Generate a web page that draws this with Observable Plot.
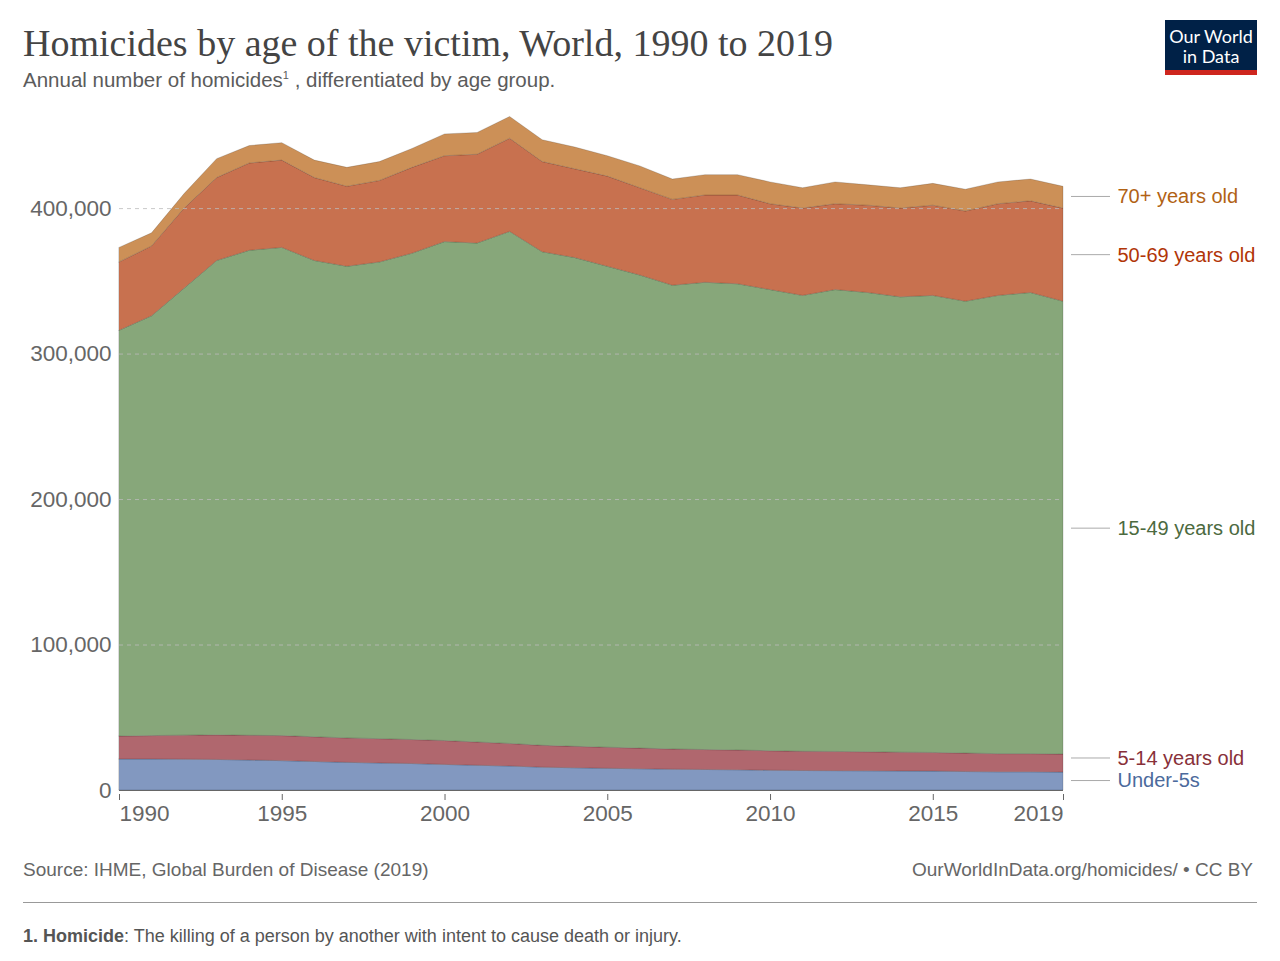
<!DOCTYPE html>
<html><head><meta charset="utf-8">
<script src="https://cdn.jsdelivr.net/npm/d3@7"></script>
<script src="https://cdn.jsdelivr.net/npm/@observablehq/plot@0.6"></script>
<style>
body{margin:0;background:#fff;font-family:"Liberation Sans",Arial,sans-serif;}
#wrap{position:relative;width:1280px;height:961px;}
#title{position:absolute;left:23px;top:21px;font-family:"Liberation Serif","DejaVu Serif",serif;font-size:38px;color:#444;}
#sub{position:absolute;left:23px;top:68px;font-size:20.5px;color:#5b5b5b;}
#logo{position:absolute;left:1165px;top:20px;width:92px;height:55px;background:#002147;color:#fff;text-align:center;font-family:Lato,sans-serif;font-size:18px;line-height:20px;box-sizing:border-box;padding-top:6px;border-bottom:5px solid #ce261e;}
#chart{position:absolute;left:0;top:100px;}
#src{position:absolute;left:23px;top:859px;font-size:19px;color:#666;}
#url{position:absolute;right:27px;top:859px;font-size:19px;color:#666;}
#hr{position:absolute;left:23px;width:1234px;top:902px;border-top:1px solid #999;}
#note{position:absolute;left:23px;top:926px;font-size:18px;color:#555;}
</style></head><body>
<div id="wrap">
<div id="title">Homicides by age of the victim, World, 1990 to 2019</div>
<div id="sub">Annual number of homicides<sup style="font-size:11px">1</sup> , differentiated by age group.</div>
<div id="logo">Our World<br>in Data</div>
<div id="chart"></div>
<div id="src">Source: IHME, Global Burden of Disease (2019)</div>
<div id="url">OurWorldInData.org/homicides/ • CC BY</div>
<div id="hr"></div>
<div id="note"><b>1. Homicide</b>: The killing of a person by another with intent to cause death or injury.</div>
</div>
<script>
const years = d3.range(1990, 2020);
const groups = ["Under-5s", "5-14 years old", "15-49 years old", "50-69 years old", "70+ years old"];
const colors = ["#8298c0", "#b0676e", "#87a77a", "#c8714f", "#cc9057"];
const labelColors = ["#4c6a9c", "#883039", "#4c6a3f", "#b13507", "#b16214"];
// thousands
const under5 = [21.3,21.3,21.2,21.0,20.6,20.2,19.6,19.0,18.6,18.2,17.6,17.0,16.5,15.7,15.3,14.9,14.6,14.3,14.1,13.9,13.6,13.4,13.3,13.2,13.1,13.0,12.7,12.5,12.5,12.3];
const age5to14 = [15.8,16.1,16.5,16.9,17.0,17.2,17.0,16.8,16.7,16.5,16.4,16.0,15.5,15.0,14.7,14.5,14.2,13.9,13.7,13.6,13.4,13.2,13.2,13.1,12.9,12.8,12.7,12.5,12.5,12.4];
const age15to49 = [278.9,288.6,307.3,326.1,333.4,335.6,327.4,324.2,327.7,334.3,343,343,352,339.3,336,330.6,325.2,318.8,321.2,320.5,317,313.4,317.5,315.7,313,314.2,310.6,315,317,311.3];
const age50to69 = [47,48,55,57,60,60,57,55,56,59,59,61,64,62,61,62,60,59,60,61,59,60,59,60,61,62,62,63,63,64];
const age70plus = [10,9,10,13,12,12,12,13,13,13,15,15,15,15,15,14,15,14,14,14,15,14,15,14,14,15,15,15,15,15];
const series = [under5, age5to14, age15to49, age50to69, age70plus];
const yTicks = [0, 100000, 200000, 300000, 400000];
const xTicks = [1990, 1995, 2000, 2005, 2010, 2015, 2019];
// label anchor values (data units) for the right-hand labels
const labelY = [6500, 22000, 180000, 368000, 408000];

const rows = [];
series.forEach((s, g) => s.forEach((v, i) => rows.push({year: years[i], group: groups[g], value: v * 1000})));

const chart = Plot.plot({
  width: 1280, height: 735,
  marginLeft: 119, marginRight: 217, marginTop: 15, marginBottom: 45,
  style: {fontFamily: "'Liberation Sans', Arial, sans-serif", fontSize: "22px", color: "#666", overflow: "visible"},
  x: {type: "linear", domain: [1990, 2019], label: null},
  y: {domain: [0, 464000], label: null},
  color: {domain: groups, range: colors},
  marks: [
    Plot.areaY(rows, {x: "year", y: "value", fill: "group", order: groups, stroke: "rgba(0,0,0,0.2)", strokeWidth: 0.8}),
    Plot.gridY(yTicks, {stroke: "#bbb", strokeDasharray: "4,4", strokeOpacity: 0.8}),
    Plot.axisY({ticks: yTicks, tickFormat: d => d3.format(",")(d), tickSize: 0, tickPadding: 8, fontSize: 22.5, label: null}),
    Plot.axisX({ticks: xTicks, tickFormat: d => String(d), fontSize: 22.5, label: null, tickSize: 6, tickPadding: 5, stroke: "#666", dy: 4}),
    Plot.ruleY([0], {stroke: "#666"}),
    Plot.text(groups, {x: () => 2019, y: (d, i) => labelY[i], text: d => d, dx: 54, textAnchor: "start", fill: (d, i) => labelColors[i], fontSize: 20})
  ]
});
// leader lines between the plot edge and the labels
const xs = chart.scale("x"), ys = chart.scale("y");
const svg = d3.select(chart);
labelY.forEach(v => {
  svg.append("line")
    .attr("x1", xs.apply(2019) + 8).attr("x2", xs.apply(2019) + 47)
    .attr("y1", ys.apply(v)).attr("y2", ys.apply(v))
    .attr("stroke", "#aaa").attr("stroke-width", 1);
});
// keep first and last year labels inside the plot edges
const xLabels = svg.selectAll("[aria-label='x-axis tick label'] text").nodes();
if (xLabels.length) {
  d3.select(xLabels[0]).attr("text-anchor", "start");
  d3.select(xLabels[xLabels.length - 1]).attr("text-anchor", "end");
}
document.getElementById("chart").appendChild(chart);
</script>
</body></html>
